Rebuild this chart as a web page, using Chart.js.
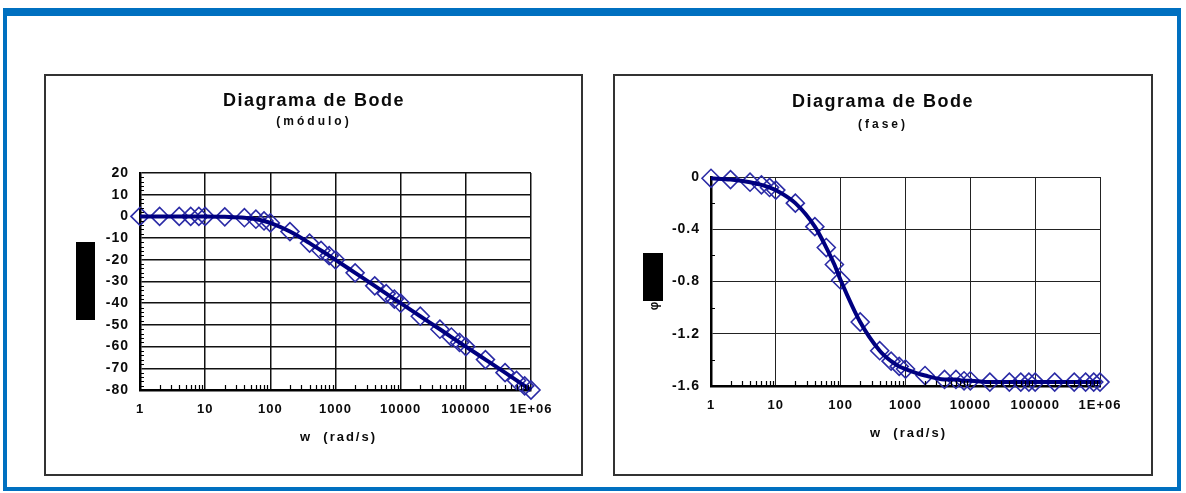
<!DOCTYPE html>
<html>
<head>
<meta charset="utf-8">
<script src="https://cdn.jsdelivr.net/npm/chart.js@4/dist/chart.umd.min.js"></script>
<style>
  html, body { margin: 0; padding: 0; background: #fff; }
  body { width: 1186px; height: 493px; position: relative; overflow: hidden; font-family: "Liberation Sans", Arial, sans-serif; }
  .frame { position: absolute; left: 3px; top: 8px; width: 1178px; height: 483px; box-sizing: border-box;
           border-style: solid; border-color: #0070c0; border-width: 8px 4px 4px 4px; }
  .box { position: absolute; box-sizing: border-box; border: 2px solid #333; background: #fff; }
  canvas { position: absolute; }
</style>
</head>
<body>
<div class="frame"></div>
<div class="box" style="left:44px;top:74px;width:539px;height:402px"></div>
<div class="box" style="left:613px;top:74px;width:540px;height:402px"></div>
<canvas id="modulo" style="left:44px;top:74px" width="539" height="402"></canvas>
<canvas id="fase" style="left:613px;top:74px" width="540" height="402"></canvas>

<script>
// Frequency samples, rad/s
const freq = [1, 2, 4, 6, 8, 10, 20, 40, 60, 80, 100, 200, 400, 600, 800,
  1000, 2000, 4000, 6000, 8000, 10000, 20000, 40000, 60000, 80000,
  100000, 200000, 400000, 600000, 800000, 1000000];

// Magnitude, dB
const moduloDb = [0, 0, 0, 0, 0, 0, -0.2, -0.6, -1.3, -2.1, -3.0, -7.0, -12.3, -15.7, -18.1,
  -20.0, -26.0, -32.0, -35.6, -38.1, -40.0, -46.0, -52.0, -55.6, -58.1,
  -60.0, -66.0, -72.0, -75.6, -78.1, -80.0];

// Phase, rad
const faseRad = [-0.01, -0.02, -0.04, -0.06, -0.08, -0.10, -0.20, -0.38, -0.54, -0.67, -0.79, -1.11, -1.33, -1.41, -1.45,
  -1.47, -1.52, -1.55, -1.55, -1.56, -1.56, -1.57, -1.57, -1.57, -1.57,
  -1.57, -1.57, -1.57, -1.57, -1.57, -1.57];

// Axis ticks
const decadeLabels = ['1', '10', '100', '1000', '10000', '100000', '1E+06'];
const moduloTicks = { min: -80, max: 20, step: 10, minorStep: 2 };
const faseTicks = { min: -1.6, max: 0, step: 0.4, minorStep: 0.2 };

const TEXT = '#0a0a0a';
const FONT = '"Liberation Sans", Arial, sans-serif';

function isDecade(v) {
  const l = Math.log10(v);
  return Math.abs(l - Math.round(l)) < 1e-9;
}

function points(ys) {
  return freq.map((x, i) => ({ x: x, y: ys[i] }));
}

// Titles, axis title, inner minor ticks and masking boxes
function decorPlugin(cfg) {
  return {
    id: 'decor',
    beforeDraw(chart) {
      chart.ctx.letterSpacing = '1px';
    },
    afterDraw(chart) {
      const ctx = chart.ctx;
      const a = chart.chartArea;
      const xs = chart.scales.x, ys = chart.scales.y;
      ctx.save();
      // minor ticks along the x axis, pointing into the plot
      ctx.strokeStyle = '#000';
      ctx.lineWidth = 1.2;
      ctx.beginPath();
      for (let k = 0; k < 6; k++) {
        for (let m = 2; m <= 9; m++) {
          const px = Math.round(xs.getPixelForValue(m * Math.pow(10, k))) + 0.5;
          ctx.moveTo(px, a.bottom);
          ctx.lineTo(px, a.bottom - 5);
        }
      }
      // minor ticks along the y axis
      const t = cfg.ticks;
      const n = Math.round((t.max - t.min) / t.minorStep);
      for (let i = 1; i < n; i++) {
        const v = t.min + i * t.minorStep;
        if (Math.abs(v / t.step - Math.round(v / t.step)) < 1e-6) continue;
        const py = Math.round(ys.getPixelForValue(v)) + 0.5;
        ctx.moveTo(a.left, py);
        ctx.lineTo(a.left + 4, py);
      }
      ctx.stroke();

      ctx.fillStyle = TEXT;
      ctx.textAlign = 'center';
      ctx.textBaseline = 'middle';
      ctx.letterSpacing = '1.5px';
      ctx.font = 'bold 18px ' + FONT;
      ctx.fillText('Diagrama de Bode', cfg.titleX, cfg.titleY);
      ctx.letterSpacing = '3px';
      ctx.font = 'bold 12px ' + FONT;
      ctx.fillText(cfg.subtitle, cfg.titleX, cfg.subY);
      ctx.letterSpacing = '2px';
      ctx.font = 'bold 13px ' + FONT;
      ctx.fillText('w  (rad/s)', (a.left + a.right) / 2 + 3, cfg.axisTitleY);

      if (cfg.glyph) {
        ctx.save();
        ctx.translate(cfg.glyph.x, cfg.glyph.y);
        ctx.rotate(-Math.PI / 2);
        ctx.letterSpacing = '0px';
        ctx.font = 'bold 12px ' + FONT;
        ctx.fillText(cfg.glyph.text, 0, 0);
        ctx.restore();
      }
      ctx.fillStyle = '#000';
      const b = cfg.mask;
      ctx.fillRect(b.x, b.y, b.w, b.h);
      ctx.restore();
    }
  };
}

function makeChart(id, ys, cfg) {
  const t = cfg.ticks;
  return new Chart(document.getElementById(id), {
    type: 'line',
    data: {
      datasets: [
        {
          data: points(ys),
          borderColor: '#000080',
          borderWidth: 4,
          pointRadius: 0,
          cubicInterpolationMode: 'monotone',
          fill: false,
          clip: false,
          order: 0
        },
        {
          data: points(ys),
          showLine: false,
          pointStyle: 'rectRot',
          pointRadius: 9,
          pointBorderWidth: 1.6,
          pointBorderColor: '#2b2ba6',
          pointBackgroundColor: 'rgba(0,0,0,0)',
          clip: false,
          order: 1
        }
      ]
    },
    options: {
      responsive: false,
      animation: false,
      events: [],
      layout: { padding: cfg.padding },
      plugins: { legend: { display: false }, title: { display: false }, tooltip: { enabled: false } },
      scales: {
        x: {
          type: 'logarithmic',
          min: 1,
          max: 1000000,
          afterFit(s) { s.height = cfg.xHeight; },
          border: { display: true, color: '#000', width: 2.5 },
          grid: {
            drawTicks: false,
            lineWidth: cfg.gridWidth,
            color: c => (c.tick && isDecade(c.tick.value)) ? cfg.gridColor : 'rgba(0,0,0,0)'
          },
          ticks: {
            autoSkip: false,
            maxRotation: 0,
            padding: 12,
            color: TEXT,
            font: { family: FONT, size: 13, weight: 'bold' },
            callback: v => isDecade(v) ? decadeLabels[Math.round(Math.log10(v))] : ''
          }
        },
        y: {
          type: 'linear',
          min: t.min,
          max: t.max,
          afterFit(s) { s.width = cfg.yWidth; },
          border: { display: true, color: '#000', width: 2.5 },
          grid: { drawTicks: false, lineWidth: cfg.gridWidth, color: cfg.gridColor },
          ticks: {
            stepSize: t.step,
            padding: 11,
            color: TEXT,
            font: { family: FONT, size: 14, weight: 'bold' },
            callback: v => String(Number(v.toFixed(1)))
          }
        }
      }
    },
    plugins: [decorPlugin(cfg)]
  });
}

makeChart('modulo', moduloDb, {
  ticks: moduloTicks,
  padding: { left: 0, top: 99, right: 52, bottom: 0 },
  yWidth: 96, xHeight: 86,
  gridWidth: 1.5, gridColor: '#111',
  titleX: 270, titleY: 27, subtitle: '(módulo)', subY: 48, axisTitleY: 363,
  mask: { x: 32, y: 168, w: 19, h: 78 }
});

makeChart('fase', faseRad, {
  ticks: faseTicks,
  padding: { left: 0, top: 103, right: 53, bottom: 0 },
  yWidth: 98, xHeight: 90,
  gridWidth: 1, gridColor: '#222',
  titleX: 270, titleY: 28, subtitle: '(fase)', subY: 51, axisTitleY: 359,
  glyph: { x: 42, y: 232, text: 'φ' },
  mask: { x: 30, y: 179, w: 20, h: 48 }
});
</script>
</body>
</html>
